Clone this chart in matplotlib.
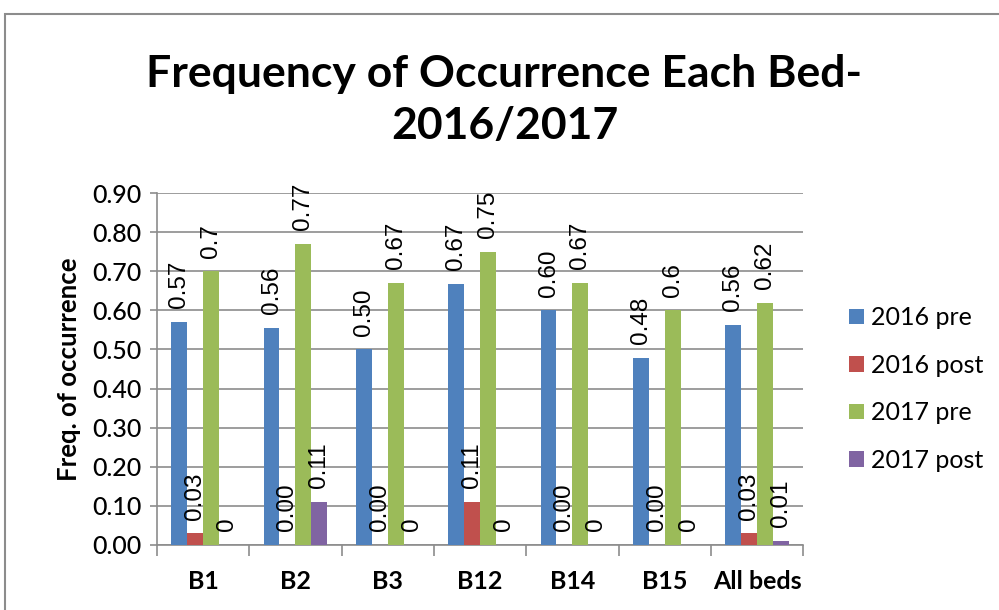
import matplotlib.pyplot as plt
import numpy as np
from matplotlib.patches import Rectangle

beds = ["B1", "B2", "B3", "B12", "B14", "B15", "All beds"]
series = ["2016 pre", "2016 post", "2017 pre", "2017 post"]
pre_2016 = [0.57, 0.555, 0.50, 0.667, 0.60, 0.478, 0.563]
post_2016 = [0.03, 0.0, 0.0, 0.11, 0.0, 0.0, 0.03]
pre_2017 = [0.70, 0.77, 0.67, 0.75, 0.67, 0.60, 0.62]
post_2017 = [0.0, 0.11, 0.0, 0.0, 0.0, 0.0, 0.01]
lbl_pre_2016 = ["0.57", "0.56", "0.50", "0.67", "0.60", "0.48", "0.56"]
lbl_post_2016 = ["0.03", "0.00", "0.00", "0.11", "0.00", "0.00", "0.03"]
lbl_pre_2017 = ["0.7", "0.77", "0.67", "0.75", "0.67", "0.6", "0.62"]
lbl_post_2017 = ["0", "0.11", "0", "0", "0", "0", "0.01"]

values = [pre_2016, post_2016, pre_2017, post_2017]
labels = [lbl_pre_2016, lbl_post_2016, lbl_pre_2017, lbl_post_2017]
colors = ["#4f81bd", "#c0504d", "#9bbb59", "#8064a2"]

calibri = ["Lato", "DejaVu Sans"]
arial = ["Liberation Sans", "DejaVu Sans"]

fig = plt.figure(figsize=(9.99, 6.10), dpi=100)
ax = fig.add_axes([0.157, 0.1066, 0.647, 0.577])

# outer chart frame
fig.patches.append(Rectangle((0.005, -0.1), 1.2, 1.077, transform=fig.transFigure,
                             fill=False, edgecolor="#8c8c8c", linewidth=1.5))

x = np.arange(len(beds))
w = 0.172
offsets = [-1.5 * w, -0.5 * w, 0.5 * w, 1.5 * w]
for vals, lbls, col, off, name in zip(values, labels, colors, offsets, series):
    bars = ax.bar(x + off, vals, w, color=col, label=name, zorder=3)
    for b, t in zip(bars, lbls):
        ax.text(b.get_x() + b.get_width() / 2, b.get_height() + 0.035, t,
                rotation=90, ha="center", va="bottom", fontsize=17.5,
                family=arial, zorder=4)

ax.set_xlim(-0.5, len(beds) - 0.5)
ax.set_ylim(0, 0.9)
ax.set_yticks(np.arange(0, 0.91, 0.1))
ax.set_yticklabels([f"{v:.2f}" for v in np.arange(0, 0.91, 0.1)],
                   fontsize=18, family=calibri, fontweight="medium")
ax.set_xticks(x)
ax.set_xticklabels(beds, fontsize=18, family=calibri, fontweight="bold")
ax.set_xticks(np.arange(-0.5, len(beds)), minor=True)
ax.tick_params(axis="x", which="major", length=0, pad=18)
ax.tick_params(axis="x", which="minor", length=8, color="#8c8c8c", width=1.2)
ax.tick_params(axis="y", length=5, color="#8c8c8c", width=1.2, pad=6)
ax.grid(axis="y", color="#8c8c8c", linewidth=1.2, zorder=0)
for s in ["top", "right"]:
    ax.spines[s].set_visible(False)
for s in ["left", "bottom"]:
    ax.spines[s].set_color("#8c8c8c")
    ax.spines[s].set_linewidth(1.2)

ax.set_ylabel("Freq. of occurrence", fontsize=18.5, family=calibri,
              fontweight="bold", labelpad=8)

fig.text(0.505, 0.836, "Frequency of Occurrence Each Bed-\n2016/2017",
         ha="center", va="center", fontsize=32, fontweight="bold",
         family=calibri, linespacing=1.38)

ax.legend(loc="center left", bbox_to_anchor=(1.071, 0.443), frameon=False,
          prop={"family": calibri, "size": 18}, handlelength=0.6,
          handleheight=0.6, labelspacing=0.98, handletextpad=0.28,
          borderaxespad=0, borderpad=0)

plt.savefig("out.png", dpi=100)
